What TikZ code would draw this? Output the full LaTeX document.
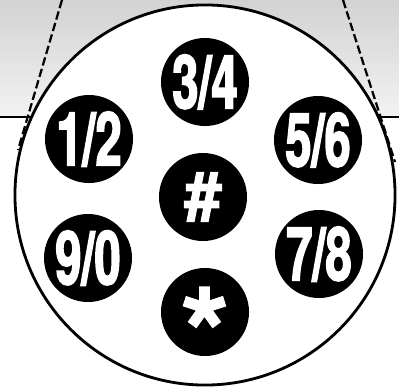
\documentclass[tikz,border=0pt]{standalone}
\usepackage{fontspec}
\newfontfamily\keyfont{TeX Gyre Heros}[FakeStretch=0.63, BoldFeatures={FakeBold=2}]
\newfontfamily\symfont{TeX Gyre Heros}[BoldFeatures={FakeBold=1.5}]
\usetikzlibrary{positioning}

\begin{document}
\begin{tikzpicture}[
    x=0.025cm, y=-0.025cm,
    key/.style={circle, fill=black, text=white, inner sep=0pt, minimum size=2.2cm,
      font=\keyfont\bfseries\fontsize{53}{53}\selectfont},
    symkey/.style={key, font=\symfont\bfseries\fontsize{48}{48}\selectfont},
    starmark/.style={text=white, inner sep=0pt, text height=93pt, text depth=0pt,
      font=\symfont\bfseries\fontsize{88}{88}\selectfont},
    edge/.style={line width=1.2pt},
    guide/.style={line width=1.6pt, dash pattern=on 6pt off 2.5pt}
]
\useasboundingbox (0,0) rectangle (399,388);
\fill[top color=gray!35, bottom color=gray!10] (0,0) rectangle (399,117);
\draw[edge] (0,117) -- (399,117);
\node[circle, draw, line width=2pt, fill=white, inner sep=0pt, minimum size=9.5cm] (dial) at (205,195) {};
\draw[guide] (62,0) -- (18,150);
\draw[guide] (343,0) -- (395,162);
\node[key] (k34) at (205,82) {3/4};
\node[key] (k12) at (89,139) {1/2};
\node[key] (k56) at (318,140) {5/6};
\node[symkey] (khash) at (203,197) {\#};
\node[key] (k90) at (88,258) {9/0};
\node[key] (k78) at (319,254) {7/8};
\node[key] (kstar) at (205,312) {};
\node[starmark] (star) at (kstar) {*};
\end{tikzpicture}
\end{document}
